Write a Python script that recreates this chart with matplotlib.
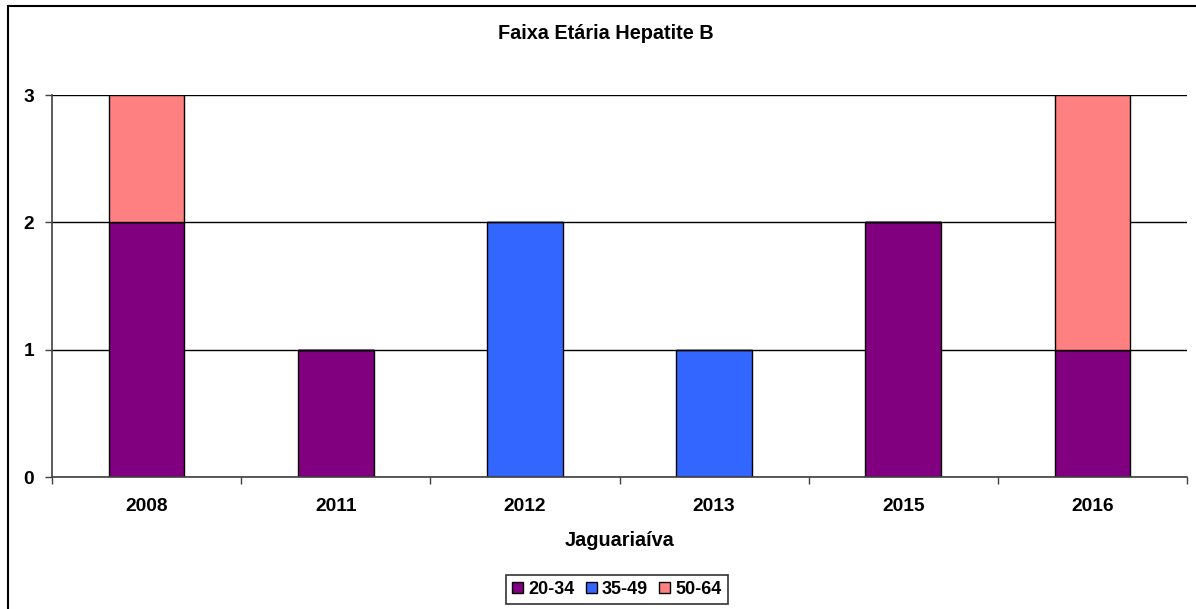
import matplotlib
matplotlib.use("Agg")
import matplotlib.pyplot as plt
from matplotlib.patches import Rectangle
import numpy as np

plt.rcParams['font.family'] = ['Liberation Sans', 'DejaVu Sans']

categories = ['2008', '2011', '2012', '2013', '2015', '2016']
series_names = ['20-34', '35-49', '50-64']
v_20_34 = [2, 1, 0, 0, 2, 1]
v_35_49 = [0, 0, 2, 1, 0, 0]
v_50_64 = [1, 0, 0, 0, 0, 2]
colors = ['#800080', '#3366FF', '#FF8080']
title = 'Faixa Etária Hepatite B'
xlabel = 'Jaguariaíva'
yticks = [0, 1, 2, 3]

W, H = 1196, 609
fig = plt.figure(figsize=(W/100, H/100), dpi=100)
ax = fig.add_axes([52/W, 1-477/H, (1187-52)/W, (477-95)/H])

x = np.arange(len(categories))
bottom = np.zeros(len(categories))
handles = []
for name, vals, c in zip(series_names, [v_20_34, v_35_49, v_50_64], colors):
    vals = np.array(vals, dtype=float)
    b = ax.bar(x, vals, width=0.4, bottom=bottom, color=c, edgecolor='black',
               linewidth=1.0, label=name, zorder=3)
    handles.append(b)
    bottom += vals

ax.set_xlim(-0.5, len(categories)-0.5)
ax.set_ylim(0, 3)
ax.set_yticks(yticks)
ax.set_yticklabels([str(t) for t in yticks], fontsize=13.8, fontweight='bold')
ax.set_xticks(x)
ax.set_xticklabels(categories, fontsize=13.8, fontweight='bold')
ax.set_xticks(np.arange(len(categories)+1)-0.5, minor=True)
ax.tick_params(axis='x', which='major', length=0, pad=15)
ax.tick_params(axis='x', which='minor', length=5, width=1, color='#404040', direction='out')
ax.tick_params(axis='y', which='major', length=5, width=1, color='#404040', pad=8)
ax.grid(axis='y', color='black', linewidth=1, zorder=0)
ax.set_axisbelow(True)
for s in ['top', 'right']:
    ax.spines[s].set_visible(False)
for s in ['left', 'bottom']:
    ax.spines[s].set_color('#404040')
    ax.spines[s].set_linewidth(1.2)
    ax.spines[s].set_zorder(4)

fig.text(606/W, 1-39/H, title, ha='center', va='baseline', fontsize=14.3, fontweight='bold')
fig.text(619.5/W, 1-546/H, xlabel, ha='center', va='baseline', fontsize=14.3, fontweight='bold')

leg = fig.legend(handles=handles, labels=series_names, loc='center',
                 bbox_to_anchor=(617/W, 1-589.5/H), ncol=3, frameon=True,
                 fancybox=False, edgecolor='black',
                 prop={'weight': 'bold', 'size': 13},
                 handlelength=0.6, handleheight=0.6, handletextpad=0.3,
                 columnspacing=0.6, borderpad=0.35, borderaxespad=0)
leg.get_frame().set_linewidth(1.2)

fig.patches.append(Rectangle((8/W, -0.1), 1.2, 1-6/H+0.1, transform=fig.transFigure,
                             fill=False, edgecolor='black', linewidth=1.5, zorder=0))

fig.savefig('out.png', dpi=100)
